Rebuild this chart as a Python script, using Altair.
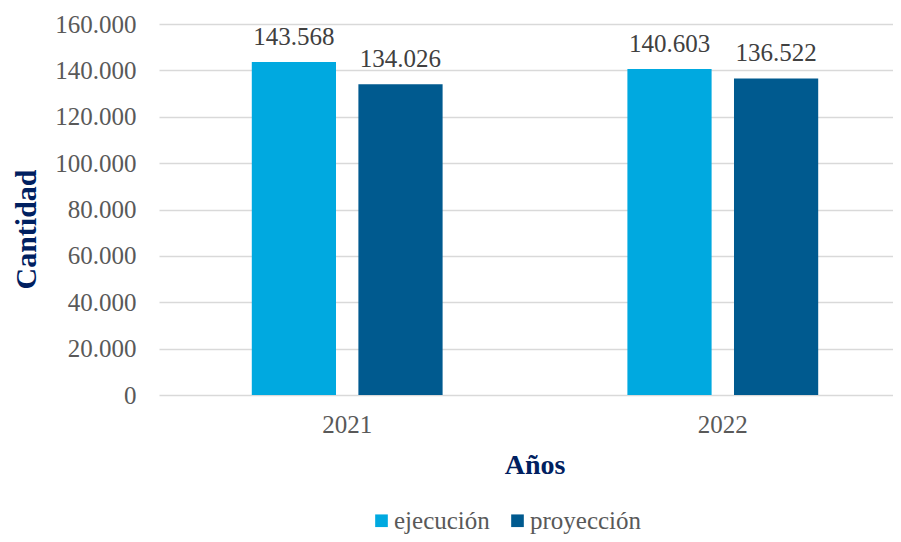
import altair as alt
import pandas as pd

anios = ["2021", "2022"]
series = ["ejecución", "proyección"]
ejecucion = [143568, 140603]
proyeccion = [134026, 136522]
y_ticks = [0, 20000, 40000, 60000, 80000, 100000, 120000, 140000, 160000]
colores = ["#00A9E0", "#005A8F"]

rows = []
for i, a in enumerate(anios):
    rows.append({"anio": a, "serie": series[0], "valor": ejecucion[i]})
    rows.append({"anio": a, "serie": series[1], "valor": proyeccion[i]})
df = pd.DataFrame(rows)

FONT = "Liberation Serif"
TITLE_COLOR = "#002060"
LABEL_COLOR = "#595959"

x = alt.X(
    "anio:N", title="Años", sort=anios,
    scale=alt.Scale(paddingInner=0.492, paddingOuter=0.2231, align=0.5537),
    axis=alt.Axis(
        labelAngle=0, ticks=False, tickSize=0, domain=False, labelPadding=17,
        labelFont=FONT, labelFontSize=25, labelColor=LABEL_COLOR,
        titleFont=FONT, titleFontSize=28, titleFontWeight="bold", titleColor=TITLE_COLOR,
        titleX=375.5, titleY=78, titleAlign="center", titleBaseline="alphabetic",
    ),
)
xo = alt.XOffset("serie:N", sort=series, scale=alt.Scale(paddingInner=0.21, paddingOuter=0))
y = alt.Y(
    "valor:Q", title="Cantidad",
    scale=alt.Scale(domain=[0, 160000], nice=False),
    axis=alt.Axis(
        values=y_ticks,
        labelExpr="replace(format(datum.value, ','), ',', '.')",
        grid=True, gridColor="#D9D9D9", gridWidth=1.5,
        domain=False, ticks=False, tickSize=0, labelPadding=23,
        labelFont=FONT, labelFontSize=25, labelColor=LABEL_COLOR,
        titleFont=FONT, titleFontSize=30, titleFontWeight="bold", titleColor=TITLE_COLOR,
        titleAngle=270, titleX=-124, titleY=205, titleAlign="center", titleBaseline="alphabetic",
    ),
)
color = alt.Color(
    "serie:N",
    scale=alt.Scale(domain=series, range=colores),
    legend=alt.Legend(
        title=None, orient="none", direction="horizontal",
        legendX=210, legendY=484, padding=0,
        symbolType="square", symbolSize=160, symbolStrokeWidth=0, symbolOpacity=1,
        labelOffset=0, columnPadding=15,
        labelFont=FONT, labelFontSize=25, labelColor=LABEL_COLOR,
    ),
)

base = alt.Chart(df)
bars = base.mark_bar().encode(x=x, xOffset=xo, y=y, color=color)
text = base.transform_calculate(
    label="replace(format(datum.valor, ','), ',', '.')"
).mark_text(
    dy=-17, baseline="alphabetic", align="center", fontSize=25, font=FONT, color="#404040"
).encode(x=x, xOffset=xo, y=y, text="label:N")

chart = alt.layer(bars, text).properties(
    width=734, height=371,
    padding={"left": 151, "top": 16, "right": 0, "bottom": 139},
    autosize=alt.AutoSizeParams(type="none"),
    background="white",
).configure_view(stroke=None)

chart.save("out.html", embed_options={"renderer": "svg", "actions": False})
